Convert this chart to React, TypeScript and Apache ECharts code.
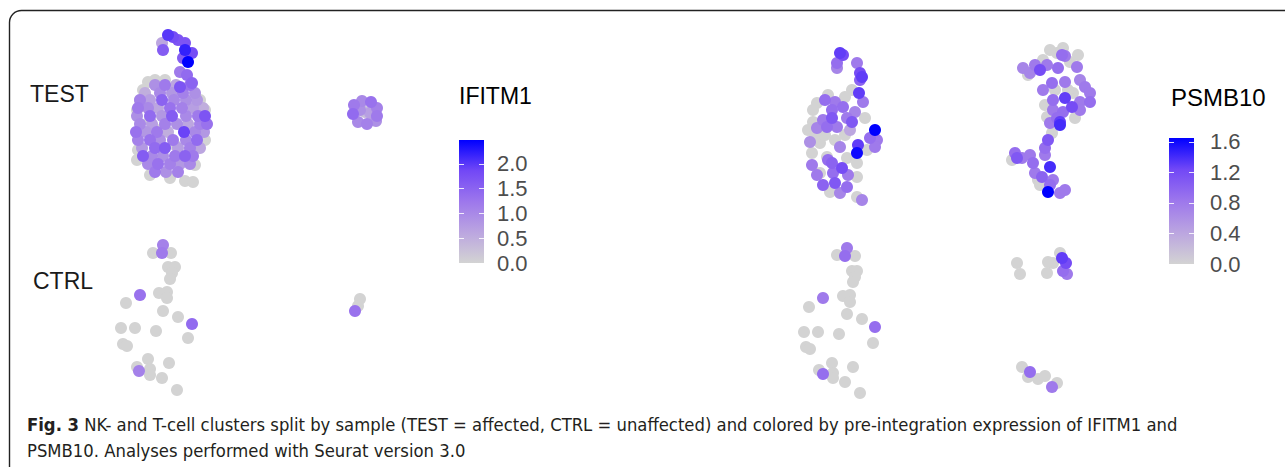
import React, { useEffect, useRef } from "react";
import * as echarts from "echarts";

const genes = ["IFITM1", "PSMB10"];
const samples = ["TEST", "CTRL"];
const ifitm1Max = 2.48;
const psmb10Max = 1.65;
const ifitm1Ticks = [0, 0.5, 1.0, 1.5, 2.0];
const psmb10Ticks = [0, 0.4, 0.8, 1.2, 1.6];
// lightgrey -> blue, interpolated in Lab space like ggplot2
const exprColors = ["#D3D3D3", "#BBA5E0", "#9D77EC", "#7248F6", "#0000FF"];

// [UMAP_1, UMAP_2, expression]
const ifitm1Test: number[][] = [
  [6.8, 16.5, 2.0], [7.3, 16.3, 1.8], [7.8, 16.0, 1.7], [6.3, 15.0, 1.6], [6.2, 15.7, 0.6],
  [8.5, 15.7, 1.7], [8.5, 15.0, 2.2], [9.2, 14.7, 1.8], [8.8, 13.8, 2.5], [8.3, 14.2, 1.6],
  [8.0, 12.8, 1.2], [8.7, 12.5, 1.4], [9.2, 11.7, 1.5], [8.0, 11.3, 1.7],
  [4.8, 11.8, 0], [4.3, 11.0, 0], [4.0, 10.0, 0], [3.7, 9.0, 0], [10.5, 9.0, 0], [10.0, 10.0, 0],
  [3.8, 5.0, 0], [3.7, 4.0, 0], [10.5, 6.0, 0], [5.0, 2.5, 0], [9.5, 3.5, 0], [7.0, 2.2, 0],
  [8.5, 1.9, 0], [9.3, 1.8, 0], [5.5, 12.0, 0], [6.5, 12.0, 0], [6.0, 7.0, 0], [7.5, 5.5, 0],
  [5.0, 8.0, 0], [9.0, 5.0, 0],
  [5.5, 11.5, 0.9], [6.5, 11.5, 1.2], [7.6, 11.5, 0.6], [9.0, 11.5, 1.3],
  [4.5, 10.7, 0.5], [6.0, 10.7, 1.0], [7.2, 10.7, 0.8], [8.3, 10.7, 1.1], [9.5, 10.7, 0.9],
  [4.0, 10.0, 1.1], [5.0, 10.0, 0.7], [6.2, 10.0, 1.5], [7.4, 10.0, 1.0], [8.6, 10.0, 0.9], [9.7, 10.0, 0.8],
  [3.8, 9.2, 1.2], [4.8, 9.2, 1.0], [5.8, 9.2, 0.6], [7.0, 9.2, 1.3], [8.2, 9.2, 1.1], [9.3, 9.2, 0.7], [10.3, 9.2, 0.5],
  [3.7, 8.4, 0.9], [5.0, 8.4, 1.4], [6.2, 8.4, 0.8], [7.2, 8.4, 1.6], [8.6, 8.4, 1.0], [9.8, 8.4, 1.2], [10.5, 8.4, 1.7],
  [4.0, 7.6, 1.0], [5.2, 7.6, 0.7], [6.5, 7.6, 1.1], [7.7, 7.6, 0.9], [8.8, 7.6, 0.6], [10.0, 7.6, 1.1], [10.7, 7.6, 1.3],
  [3.6, 6.8, 1.3], [4.6, 6.8, 0.8], [5.7, 6.8, 1.2], [6.8, 6.8, 0.5], [8.4, 6.8, 1.9], [9.5, 6.8, 1.0], [10.4, 6.8, 0.8],
  [3.8, 6.0, 1.1], [5.0, 6.0, 1.3], [6.0, 6.0, 0.9], [7.3, 6.0, 1.2], [8.6, 6.0, 1.0], [9.7, 6.0, 1.4],
  [4.2, 5.2, 0.8], [5.5, 5.2, 1.4], [6.5, 5.2, 1.6], [7.8, 5.2, 0.7], [9.0, 5.2, 1.1], [10.0, 5.2, 0.6],
  [4.3, 4.4, 1.6], [5.2, 4.4, 1.0], [6.3, 4.4, 0.9], [7.5, 4.4, 1.2], [8.5, 4.4, 1.5], [9.3, 4.4, 1.2],
  [4.8, 3.6, 1.0], [5.8, 3.6, 1.3], [7.0, 3.6, 1.1], [8.0, 3.6, 0.8], [9.0, 3.6, 1.0],
  [5.5, 2.8, 1.2], [6.6, 2.8, 0.9], [7.8, 2.8, 1.1],
  [25.4, 9.5, 1.2], [26.2, 9.9, 1.0], [27.1, 9.8, 1.3], [27.7, 9.2, 1.1], [25.3, 8.6, 1.4],
  [27.7, 8.4, 1.2], [25.8, 7.8, 1.0], [26.7, 7.6, 1.1], [27.6, 7.9, 0.9], [26.5, 8.8, 0.3],
  [26.0, 9.0, 0.9], [27.0, 8.7, 0.7],
];

const ifitm1Ctrl: number[][] = [
  [6.3, 16.0, 1.1], [6.2, 15.2, 1.2], [5.3, 15.2, 0], [7.1, 15.2, 0], [6.8, 13.8, 0], [7.5, 13.8, 0],
  [7.2, 13.2, 0], [7.0, 12.6, 0], [4.0, 11.0, 1.3], [5.9, 11.2, 0], [6.7, 11.3, 0], [6.7, 10.7, 0],
  [2.6, 10.2, 0], [6.3, 9.4, 0], [7.8, 8.8, 0], [9.2, 8.1, 1.4], [2.1, 7.7, 0], [3.5, 7.7, 0],
  [5.6, 7.4, 0], [8.8, 6.7, 0], [2.3, 6.1, 0], [2.7, 5.9, 0], [4.8, 4.6, 0], [6.9, 4.2, 0],
  [3.7, 3.8, 0], [3.9, 3.4, 1.1], [5.0, 3.6, 0], [5.0, 3.0, 0], [6.2, 2.7, 0], [7.7, 1.5, 0],
  [26.0, 10.6, 0], [25.8, 9.9, 0], [25.5, 9.4, 1.3],
];

const psmb10Test: number[][] = [
  [7.0, 16.2, 1.3], [7.3, 16.0, 1.2], [6.7, 15.2, 0.9], [6.7, 14.7, 0.7], [8.7, 15.2, 0.8],
  [9.0, 14.2, 1.2], [9.2, 13.8, 1.3], [9.0, 13.5, 1.0], [8.2, 12.5, 0], [8.9, 12.2, 1.3],
  [9.3, 11.3, 0.8], [5.5, 11.5, 0.9], [4.7, 11.2, 0], [6.5, 11.3, 0.8], [7.3, 10.8, 0.9],
  [6.2, 10.5, 0.9], [4.3, 10.5, 0], [8.5, 10.3, 0.7], [5.3, 9.5, 0.8], [6.2, 9.7, 1.1],
  [7.7, 9.7, 0.8], [8.2, 9.3, 1.1], [9.5, 9.7, 0], [4.7, 8.7, 0.7], [5.7, 8.8, 0.9],
  [6.7, 8.8, 0.8], [4.3, 9.3, 0], [10.5, 8.5, 1.65], [10.0, 7.7, 0.9], [10.7, 7.5, 0.8],
  [4.0, 7.3, 0.6], [5.0, 7.2, 0], [7.0, 6.8, 0.7], [8.8, 7.0, 1.3], [8.7, 6.2, 1.6],
  [9.7, 6.5, 0], [10.5, 6.8, 0.8], [4.2, 6.2, 0], [5.7, 5.8, 0], [5.8, 5.5, 0.9],
  [6.2, 5.2, 1.0], [7.7, 5.7, 0], [8.7, 5.2, 0], [4.2, 5.0, 0.8], [7.2, 4.7, 1.2],
  [5.0, 4.2, 0], [4.7, 4.0, 0.8], [6.3, 4.2, 0.9], [7.8, 4.0, 0.8], [8.7, 3.8, 0],
  [5.3, 3.0, 1.0], [6.5, 3.2, 1.1], [7.7, 2.8, 0.9], [6.0, 2.3, 0], [7.0, 2.2, 0.7],
  [8.7, 1.8, 0], [9.2, 1.5, 0.7], [3.8, 8.5, 0], [4.5, 8.0, 0], [7.5, 8.0, 0], [5.5, 8.0, 0],
  [6.5, 7.5, 0], [8.0, 8.5, 0.4], [5.8, 12.0, 0], [7.5, 11.8, 0],
  [28.7, 16.2, 0], [29.2, 16.0, 0.9], [29.5, 15.9, 0.8], [27.3, 15.5, 0], [25.3, 14.7, 0.7],
  [26.5, 15.0, 0.8], [27.0, 14.5, 1.2], [27.7, 15.0, 0.8], [28.8, 14.7, 0.9], [30.7, 14.8, 0.8],
  [30.0, 15.3, 0], [26.0, 14.2, 0.7], [28.2, 13.2, 0.9], [29.5, 13.3, 0.8], [31.0, 13.5, 0.7],
  [27.3, 12.5, 0.8], [28.5, 12.5, 0], [31.5, 12.8, 0.8], [29.5, 11.7, 1.3], [30.2, 10.8, 1.2],
  [28.3, 11.5, 0.9], [32.0, 12.2, 0.8], [32.0, 11.3, 0.9], [31.0, 11.3, 0.8], [30.3, 12.2, 0],
  [28.3, 10.5, 0.8], [29.3, 10.3, 0.9], [31.0, 10.5, 0.8], [28.7, 9.7, 0.9], [29.0, 9.3, 1.3],
  [27.7, 9.8, 0], [28.0, 9.2, 0.8], [29.0, 9.0, 1.4], [28.2, 8.2, 0], [27.8, 7.5, 1.1],
  [27.5, 6.7, 0.9], [27.5, 6.0, 0.8], [24.5, 6.2, 0.9], [24.7, 5.7, 1.1], [25.2, 5.7, 0.8],
  [26.0, 6.0, 0.8], [26.3, 5.2, 0.9], [24.2, 5.5, 0], [26.5, 4.2, 0.8], [28.0, 4.8, 1.4],
  [27.2, 3.8, 1.0], [28.3, 3.5, 0.8], [28.0, 3.0, 0.9], [26.8, 3.5, 0], [27.8, 2.3, 1.65],
  [29.0, 2.2, 0.8], [29.5, 2.5, 0.8], [27.0, 3.0, 0], [28.0, 16.5, 0], [29.3, 16.7, 0],
  [30.8, 16.0, 0], [25.8, 14.0, 0], [29.8, 12.5, 0], [27.5, 11.0, 0], [30.5, 9.7, 0],
];

const psmb10Ctrl: number[][] = [
  [7.7, 16.7, 0.8], [7.5, 15.9, 0.9], [6.7, 16.0, 0], [8.5, 15.9, 0], [8.2, 14.4, 0], [8.7, 14.4, 0],
  [8.5, 13.8, 0], [8.3, 13.3, 0], [5.3, 11.7, 0.8], [7.3, 11.9, 0], [8.0, 12.0, 0], [8.0, 11.3, 0],
  [3.9, 10.8, 0], [7.7, 10.1, 0], [9.2, 9.6, 0], [10.5, 8.8, 0.9], [3.4, 8.3, 0], [4.8, 8.3, 0],
  [6.9, 8.1, 0], [10.3, 7.2, 0], [3.6, 6.8, 0], [4.0, 6.6, 0], [6.2, 5.2, 0], [8.3, 4.8, 0],
  [4.9, 4.5, 0], [5.3, 4.1, 0.9], [6.3, 4.2, 0], [6.3, 3.7, 0], [7.5, 3.3, 0], [9.0, 2.2, 0],
  [24.7, 15.2, 0], [25.0, 14.1, 0], [27.8, 15.3, 0], [28.3, 15.2, 0], [27.7, 14.2, 0], [29.0, 16.2, 0],
  [29.2, 15.7, 1.3], [29.6, 15.2, 1.2], [29.3, 14.4, 0.9], [29.7, 14.1, 0.8],
  [25.2, 4.8, 0], [26.0, 4.3, 0.9], [25.8, 3.8, 0], [26.8, 3.6, 0], [27.5, 3.9, 0], [28.7, 3.2, 0],
  [28.2, 2.8, 0.8],
];

const captionBold = "Fig. 3";
const captionLine1 =
  " NK- and T-cell clusters split by sample (TEST = affected, CTRL = unaffected) and colored by pre-integration expression of IFITM1 and";
const captionLine2 = "PSMB10. Analyses performed with Seurat version 3.0";

const SANS = "'Liberation Sans', Arial, Helvetica, sans-serif";
const CAP = "'Liberation Sans Narrow', 'DejaVu Sans Condensed', 'Open Sans', sans-serif";
const CAP_SIZE = 18.3;

const byExpr = (d: number[][]) => [...d].sort((a, b) => a[2] - b[2]);

function colorbarAxes(gridIndex: number, max: number, ticks: number[], labelOffset: number) {
  const tick = {
    show: true,
    inside: true,
    length: 5,
    customValues: ticks,
    lineStyle: { color: "rgba(255,255,255,0.85)", width: 1 },
  };
  const base = {
    gridIndex, type: "value", min: 0, max, z: 5,
    axisLine: { show: false }, splitLine: { show: false },
  };
  return [
    { ...base, position: "left", axisTick: tick, axisLabel: { show: false } },
    { ...base, position: "right", axisTick: tick, axisLabel: { show: false } },
    {
      ...base, position: "right", offset: labelOffset,
      axisTick: { show: false },
      axisLabel: {
        show: true, customValues: ticks, margin: 0, fontSize: 22, color: "#4D4D4D",
        fontFamily: SANS, formatter: (v: number) => v.toFixed(1),
      },
    },
  ];
}

function gradient() {
  return new echarts.graphic.LinearGradient(
    0, 1, 0, 0,
    exprColors.map((c, i) => ({ offset: i / (exprColors.length - 1), color: c }))
  );
}

export default function App() {
  const ref = useRef<HTMLDivElement>(null);
  useEffect(() => {
    if (!ref.current) return;
    const chart = echarts.init(ref.current, null, { renderer: "svg" });
    const hiddenVal = (gridIndex: number, max: number) => ({
      gridIndex, type: "value", min: 0, max, show: false,
      splitLine: { show: false },
    });
    const scatter = (i: number, data: number[][], name: string) => ({
      type: "scatter", name, xAxisIndex: i, yAxisIndex: i,
      symbol: "circle", symbolSize: 12, data: byExpr(data),
      itemStyle: { opacity: 1 },
    });
    const option: any = {
      animation: false,
      backgroundColor: "#ffffff",
      grid: [
        { left: 100, top: 20, width: 320, height: 180 },
        { left: 100, top: 225, width: 320, height: 180 },
        { left: 770, top: 35, width: 340, height: 180 },
        { left: 770, top: 235, width: 340, height: 180 },
        { left: 459, top: 140, width: 25, height: 123 },
        { left: 1169, top: 138, width: 25, height: 126 },
      ],
      xAxis: [
        hiddenVal(0, 32), hiddenVal(1, 32), hiddenVal(2, 34), hiddenVal(3, 34),
        { gridIndex: 4, type: "category", data: [genes[0]], show: false },
        { gridIndex: 5, type: "category", data: [genes[1]], show: false },
      ],
      yAxis: [
        hiddenVal(0, 18), hiddenVal(1, 18), hiddenVal(2, 18), hiddenVal(3, 18),
        ...colorbarAxes(4, ifitm1Max, ifitm1Ticks, 13),
        ...colorbarAxes(5, psmb10Max, psmb10Ticks, 16),
      ],
      visualMap: [
        { type: "continuous", show: false, min: 0, max: ifitm1Max, dimension: 2, seriesIndex: [0, 1], inRange: { color: exprColors } },
        { type: "continuous", show: false, min: 0, max: psmb10Max, dimension: 2, seriesIndex: [2, 3], inRange: { color: exprColors } },
      ],
      series: [
        scatter(0, ifitm1Test, genes[0] + " " + samples[0]),
        scatter(1, ifitm1Ctrl, genes[0] + " " + samples[1]),
        scatter(2, psmb10Test, genes[1] + " " + samples[0]),
        scatter(3, psmb10Ctrl, genes[1] + " " + samples[1]),
        {
          type: "bar", xAxisIndex: 4, yAxisIndex: 5, barWidth: "100%", data: [ifitm1Max],
          itemStyle: { color: gradient() }, silent: true,
        },
        {
          type: "bar", xAxisIndex: 5, yAxisIndex: 8, barWidth: "100%", data: [psmb10Max],
          itemStyle: { color: gradient() }, silent: true,
        },
      ],
      graphic: [
        {
          type: "rect", silent: true, z: 0,
          shape: { x: 9.5, y: 10.5, width: 1320, height: 520, r: 12 },
          style: { fill: "none", stroke: "#222222", lineWidth: 1.4 },
        },
        { type: "text", x: 30, y: 94, style: { text: samples[0], fontSize: 23, fontFamily: SANS, fill: "#1A1A1A", align: "left", verticalAlign: "middle" } },
        { type: "text", x: 33, y: 281, style: { text: samples[1], fontSize: 23, fontFamily: SANS, fill: "#1A1A1A", align: "left", verticalAlign: "middle" } },
        { type: "text", x: 459, y: 96, style: { text: genes[0], fontSize: 23, fontFamily: SANS, fill: "#000000", align: "left", verticalAlign: "middle" } },
        { type: "text", x: 1171, y: 97, style: { text: genes[1], fontSize: 24, fontFamily: SANS, fill: "#000000", align: "left", verticalAlign: "middle" } },
        {
          type: "text", x: 27, y: 424,
          style: {
            text: "{b|" + captionBold + "}{n|" + captionLine1 + "}",
            verticalAlign: "middle", align: "left",
            rich: {
              b: { fontSize: CAP_SIZE, fontFamily: CAP, fontWeight: "bold", fill: "#231F20" },
              n: { fontSize: CAP_SIZE, fontFamily: CAP, fill: "#231F20" },
            },
          },
        },
        {
          type: "text", x: 27, y: 450,
          style: { text: captionLine2, fontSize: CAP_SIZE, fontFamily: CAP, fill: "#231F20", align: "left", verticalAlign: "middle" },
        },
      ],
    };
    chart.setOption(option);
    return () => chart.dispose();
  }, []);
  return (
    <div
      ref={ref}
      style={{ position: "absolute", left: 0, top: 0, width: 1285, height: 467, background: "#fff" }}
    />
  );
}
